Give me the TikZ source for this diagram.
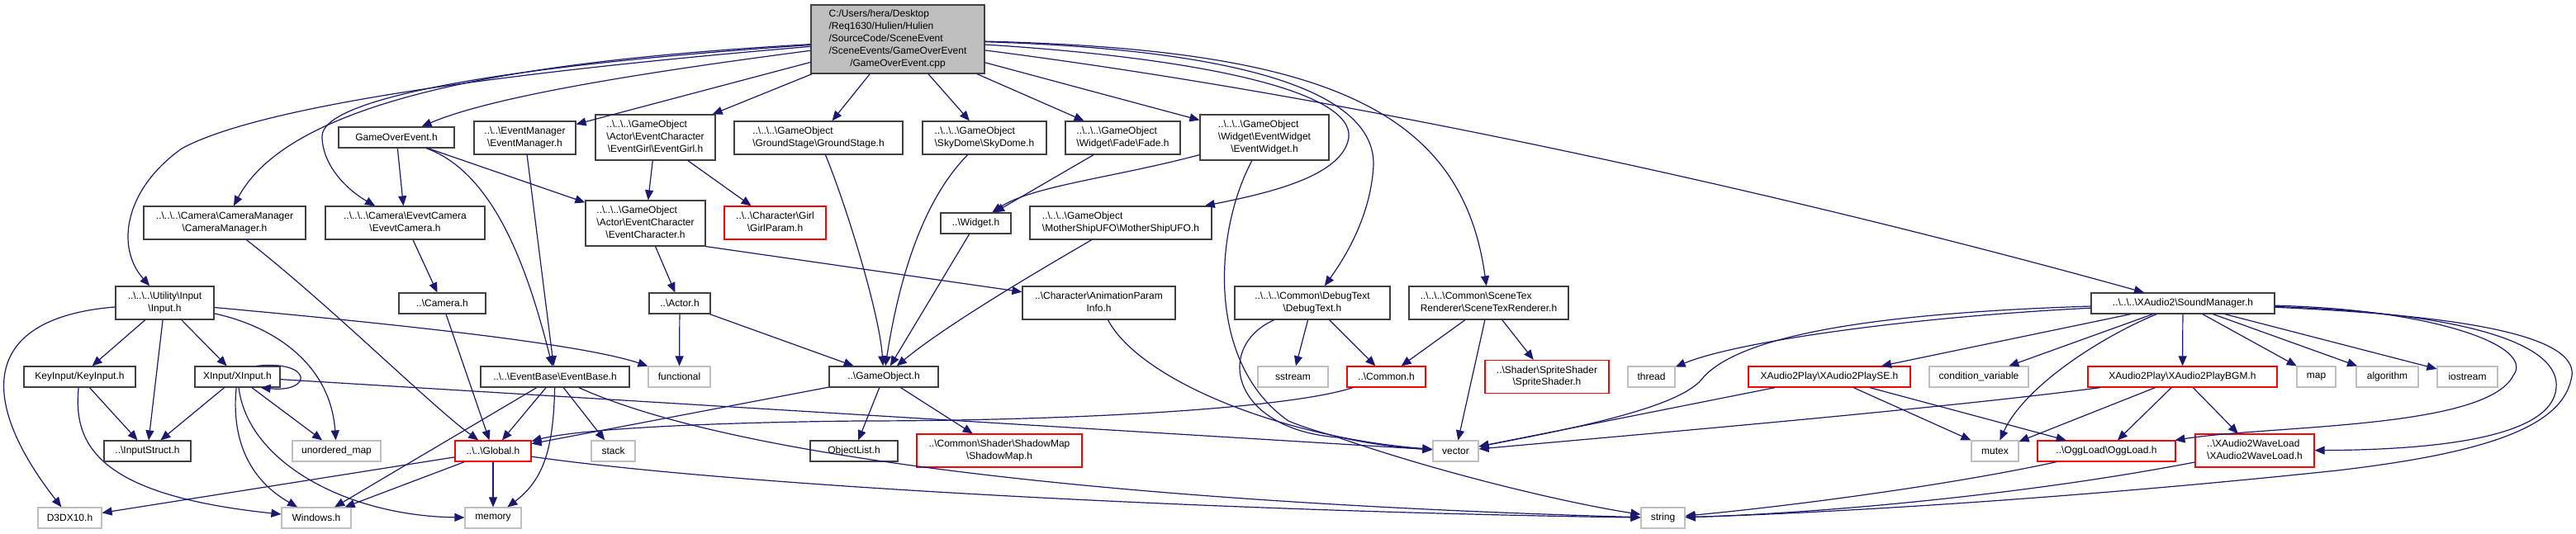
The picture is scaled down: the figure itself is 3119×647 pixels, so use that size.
\documentclass[tikz,border=0pt]{standalone}
\usepackage{fontspec}
\setmainfont{Liberation Sans}
\usepackage{xcolor}
\definecolor{DoxEdge}{HTML}{191970}
\definecolor{DoxRed}{HTML}{FF0000}
\definecolor{DoxGray}{HTML}{BFBFBF}
\definecolor{DoxFrame}{HTML}{404040}
\usepackage{tikz}
\usetikzlibrary{arrows.meta}
\newcommand{\bsl}{\textbackslash}
\newcommand{\ml}[2]{\begin{tabular}{@{}l@{}}#1\\\multicolumn{1}{@{}c@{}}{#2}\end{tabular}}
\tikzset{
  dnode/.style={draw=DoxFrame,fill=white,line width=1.2pt,inner sep=0pt,align=center,font=\fontsize{12}{14.8}\selectfont,minimum height=25pt},
  dred/.style={dnode,draw=DoxRed},
  dsys/.style={dnode,draw=DoxGray},
  droot/.style={dnode,fill=DoxGray,minimum height=83pt},
  two/.style={minimum height=40pt},
  three/.style={minimum height=55pt},
  dep/.style={draw=DoxEdge,line width=1.2pt,-{Triangle[length=12pt,width=10pt]}}
}

\begin{document}
\begin{tikzpicture}[x=1pt,y=-1pt]
  \path[use as bounding box,fill=white] (0,0) rectangle (3119,647);

  \node[droot,minimum width=210pt] (root) at (1087,47.5) {\ml{C:/Users/hera/Desktop\\/Req1630/Hulien/Hulien\\/SourceCode/SceneEvent\\/SceneEvents/GameOverEvent}{/GameOverEvent.cpp}};

  \node[dnode,minimum width=140pt] (gameoverh) at (480,166.5) {GameOverEvent.h};
  \node[dnode,two,minimum width=123pt] (eventmgr) at (635.5,167) {\ml{..\bsl..\bsl EventManager}{\bsl EventManager.h}};
  \node[dnode,three,minimum width=145pt] (eventgirl) at (793.5,166.5) {\ml{..\bsl..\bsl..\bsl GameObject\\\bsl Actor\bsl EventCharacter}{\bsl EventGirl\bsl EventGirl.h}};
  \node[dnode,two,minimum width=204pt] (groundstage) at (991,167) {\ml{..\bsl..\bsl..\bsl GameObject}{\bsl GroundStage\bsl GroundStage.h}};
  \node[dnode,two,minimum width=150pt] (skydome) at (1192,167) {\ml{..\bsl..\bsl..\bsl GameObject}{\bsl SkyDome\bsl SkyDome.h}};
  \node[dnode,two,minimum width=139pt] (fade) at (1359.5,167) {\ml{..\bsl..\bsl..\bsl GameObject}{\bsl Widget\bsl Fade\bsl Fade.h}};
  \node[dnode,three,minimum width=156pt] (eventwidget) at (1531,166.5) {\ml{..\bsl..\bsl..\bsl GameObject\\\bsl Widget\bsl EventWidget}{\bsl EventWidget.h}};

  \node[dnode,two,minimum width=196pt] (cameramgr) at (272,270) {\ml{..\bsl..\bsl..\bsl Camera\bsl CameraManager}{\bsl CameraManager.h}};
  \node[dnode,two,minimum width=193pt] (evevtcamera) at (490.5,270) {\ml{..\bsl..\bsl..\bsl Camera\bsl EvevtCamera}{\bsl EvevtCamera.h}};
  \node[dnode,three,minimum width=145pt] (eventchar) at (781.5,270.5) {\ml{..\bsl..\bsl..\bsl GameObject\\\bsl Actor\bsl EventCharacter}{\bsl EventCharacter.h}};
  \node[dred,two,minimum width=123pt] (girlparam) at (938.5,270) {\ml{..\bsl..\bsl Character\bsl Girl}{\bsl GirlParam.h}};
  \node[dnode,minimum width=85pt] (widget) at (1181.5,270.5) {..\bsl Widget.h};
  \node[dnode,two,minimum width=220pt] (mothership) at (1357,270) {\ml{..\bsl..\bsl..\bsl GameObject}{\bsl MotherShipUFO\bsl MotherShipUFO.h}};

  \node[dnode,two,minimum width=119pt] (input) at (199.5,367) {\ml{..\bsl..\bsl..\bsl Utility\bsl Input}{\bsl Input.h}};
  \node[dnode,minimum width=105pt] (camera) at (535.5,367.5) {..\bsl Camera.h};
  \node[dnode,minimum width=74pt] (actor) at (823,367.5) {..\bsl Actor.h};
  \node[dnode,two,minimum width=185pt] (animparam) at (1330.5,367) {\ml{..\bsl Character\bsl AnimationParam}{Info.h}};
  \node[dnode,two,minimum width=188pt] (debugtext) at (1589,367) {\ml{..\bsl..\bsl..\bsl Common\bsl DebugText}{\bsl DebugText.h}};
  \node[dnode,two,minimum width=193pt] (scenetex) at (1802.5,367) {\ml{..\bsl..\bsl..\bsl Common\bsl SceneTex}{Renderer\bsl SceneTexRenderer.h}};
  \node[dnode,minimum width=222pt] (soundmgr) at (2643,367.5) {..\bsl..\bsl..\bsl XAudio2\bsl SoundManager.h};

  \node[dnode,minimum width=135pt] (keyinput) at (96.5,456.5) {KeyInput/KeyInput.h};
  \node[dnode,minimum width=103pt] (xinput) at (287.5,456.5) {XInput/XInput.h};
  \node[dnode,minimum width=180pt] (eventbase) at (672,456.5) {..\bsl..\bsl EventBase\bsl EventBase.h};
  \node[dsys,minimum width=75pt] (functional) at (822.5,456.5) {functional};
  \node[dnode,minimum width=132pt] (gameobject) at (1070,456.5) {..\bsl GameObject.h};
  \node[dsys,minimum width=85pt] (sstream) at (1565.5,456.5) {sstream};
  \node[dred,minimum width=95pt] (common) at (1678.5,456.5) {..\bsl Common.h};
  \node[dred,two,minimum width=150pt] (spriteshader) at (1873,456.5) {\ml{..\bsl Shader\bsl SpriteShader}{\bsl SpriteShader.h}};
  \node[dsys,minimum width=57pt] (thread) at (1999.5,456.5) {thread};
  \node[dred,minimum width=196pt] (playse) at (2215,456.5) {XAudio2Play\bsl XAudio2PlaySE.h};
  \node[dsys,minimum width=120pt] (condvar) at (2396,456.5) {condition\_variable};
  \node[dred,minimum width=229pt] (playbgm) at (2642.5,456.5) {XAudio2Play\bsl XAudio2PlayBGM.h};
  \node[dsys,minimum width=47pt] (map) at (2804.5,456.5) {map};
  \node[dsys,minimum width=75pt] (algorithm) at (2890.5,456.5) {algorithm};
  \node[dsys,minimum width=73pt] (iostream) at (2987.5,456.5) {iostream};

  \node[dnode,minimum width=105pt] (inputstruct) at (178.5,546.5) {..\bsl InputStruct.h};
  \node[dsys,minimum width=107pt] (unorderedmap) at (407.5,546.5) {unordered\_map};
  \node[dred,minimum width=92pt] (global) at (597,546.5) {..\bsl..\bsl Global.h};
  \node[dsys,minimum width=53pt] (stack) at (742.5,546.5) {stack};
  \node[dnode,minimum width=106pt] (objectlist) at (1034,546.5) {ObjectList.h};
  \node[dred,two,minimum width=200pt] (shadowmap) at (1210,546) {\ml{..\bsl Common\bsl Shader\bsl ShadowMap}{\bsl ShadowMap.h}};
  \node[dsys,minimum width=55pt] (vector) at (1762.5,546.5) {vector};
  \node[dsys,minimum width=57pt] (mutex) at (2415.5,546.5) {mutex};
  \node[dred,minimum width=167pt] (oggload) at (2550.5,546.5) {..\bsl OggLoad\bsl OggLoad.h};
  \node[dred,two,minimum width=144pt] (waveload) at (2730,546) {\ml{..\bsl XAudio2WaveLoad}{\bsl XAudio2WaveLoad.h}};

  \node[dsys,minimum width=77pt] (d3dx10) at (84.5,627.5) {D3DX10.h};
  \node[dsys,minimum width=84pt] (windows) at (383,627.5) {Windows.h};
  \node[dsys,minimum width=68pt] (memory) at (597,627.5) {memory};
  \node[dsys,minimum width=53pt] (string) at (2013.5,627.5) {string};

  \draw[dep] (root) .. controls (700,80) and (330,120) .. (220,180) .. controls (150,230) and (140,300) .. (input);
  \draw[dep] (root) .. controls (700,70) and (360,105) .. (cameramgr);
  \draw[dep] (root) .. controls (600,80) and (390,120) .. (390,165) .. controls (390,200) and (420,230) .. (evevtcamera);
  \draw[dep] (root) .. controls (800,85) and (600,115) .. (gameoverh);
  \draw[dep] (root) -- (eventmgr);
  \draw[dep] (root) -- (eventgirl);
  \draw[dep] (root) -- (groundstage);
  \draw[dep] (root) -- (skydome);
  \draw[dep] (root) -- (fade);
  \draw[dep] (root) -- (eventwidget);
  \draw[dep] (root) .. controls (1450,70) and (1640,110) .. (1633,167) .. controls (1625,215) and (1530,235) .. (mothership);
  \draw[dep] (root) .. controls (1500,60) and (1665,110) .. (1663,200) .. controls (1660,260) and (1630,310) .. (debugtext);
  \draw[dep] (root) .. controls (1600,60) and (1770,130) .. (scenetex);
  \draw[dep] (root) .. controls (1700,126) and (2250,258) .. (soundmgr);

  \draw[dep] (gameoverh) -- (evevtcamera);
  \draw[dep] (gameoverh) -- (eventchar);
  \draw[dep] (gameoverh) .. controls (600,210) and (640,330) .. (eventbase);
  \draw[dep] (eventmgr) -- (eventbase);
  \draw[dep] (eventgirl) -- (eventchar);
  \draw[dep] (eventgirl) -- (girlparam);
  \draw[dep] (groundstage) .. controls (1025,250) and (1065,380) .. (gameobject);
  \draw[dep] (skydome) .. controls (1110,250) and (1085,360) .. (gameobject);
  \draw[dep] (fade) -- (widget);
  \draw[dep] (eventwidget) .. controls (1350,215) and (1250,225) .. (widget);
  \draw[dep] (eventwidget) .. controls (1470,280) and (1460,440) .. (1560,510) .. controls (1620,535) and (1690,542) .. (vector);

  \draw[dep] (cameramgr) .. controls (400,370) and (520,490) .. (global);
  \draw[dep] (evevtcamera) -- (camera);
  \draw[dep] (eventchar) -- (actor);
  \draw[dep] (eventchar.south east) -- (animparam);
  \draw[dep] (widget) -- (gameobject);
  \draw[dep] (mothership) .. controls (1280,315) and (1150,390) .. (gameobject);

  \draw[dep] (input) .. controls (-20,385) and (-30,480) .. (d3dx10);
  \draw[dep] (input) -- (keyinput);
  \draw[dep] (input) -- (inputstruct);
  \draw[dep] (input) -- (xinput);
  \draw[dep] (input) .. controls (330,395) and (400,440) .. (unorderedmap);
  \draw[dep] (input) .. controls (450,390) and (700,415) .. (functional);
  \draw[dep] (camera) -- (global);
  \draw[dep] (actor) -- (functional);
  \draw[dep] (actor) -- (gameobject);
  \draw[dep] (animparam) .. controls (1380,460) and (1550,530) .. (vector);
  \draw[dep] (debugtext) -- (sstream);
  \draw[dep] (debugtext) -- (common);
  \draw[dep] (debugtext) .. controls (1470,420) and (1490,520) .. (1620,530) .. controls (1750,575) and (1900,610) .. (string);
  \draw[dep] (scenetex) -- (common);
  \draw[dep] (scenetex) -- (vector);
  \draw[dep] (scenetex) -- (spriteshader);

  \draw[dep] (soundmgr) .. controls (2300,385) and (2100,415) .. (thread);
  \draw[dep] (soundmgr) .. controls (2250,380) and (2100,410) .. (2060,460) .. controls (2030,495) and (1900,520) .. (vector);
  \draw[dep] (soundmgr) -- (playse);
  \draw[dep] (soundmgr) -- (condvar);
  \draw[dep] (soundmgr) .. controls (2540,410) and (2450,470) .. (mutex);
  \draw[dep] (soundmgr) -- (playbgm);
  \draw[dep] (soundmgr) -- (map);
  \draw[dep] (soundmgr) -- (algorithm);
  \draw[dep] (soundmgr) -- (iostream);
  \draw[dep] (soundmgr) .. controls (2950,375) and (3070,420) .. (3043,455) .. controls (3010,520) and (2750,515) .. (oggload);
  \draw[dep] (soundmgr) .. controls (3000,380) and (3100,420) .. (3095,470) .. controls (3090,530) and (2950,545) .. (waveload);
  \draw[dep] (soundmgr) .. controls (3050,385) and (3125,420) .. (3113,460) .. controls (3100,520) and (3000,550) .. (2830,570) .. controls (2500,605) and (2200,622) .. (string);

  \draw[dep] (keyinput) -- (inputstruct);
  \draw[dep] (keyinput) .. controls (88,540) and (120,600) .. (windows);
  \draw[dep] (xinput) -- (inputstruct);
  \draw[dep] ([xshift=-29pt]xinput.north east) .. controls (379,436) and (379,476) .. ([xshift=-24pt]xinput.south east);
  \draw[dep] (xinput) -- (unorderedmap);
  \draw[dep] (xinput) .. controls (280,530) and (300,580) .. (windows);
  \draw[dep] (xinput) .. controls (300,560) and (420,625) .. (memory);
  \draw[dep] (xinput) -- (vector);

  \draw[dep] (eventbase) -- (global);
  \draw[dep] (eventbase) -- (windows);
  \draw[dep] (eventbase) .. controls (670,540) and (660,580) .. (memory);
  \draw[dep] (eventbase) -- (stack);
  \draw[dep] (eventbase) .. controls (900,560) and (1400,610) .. (string);
  \draw[dep] (gameobject) -- (global);
  \draw[dep] (gameobject) -- (objectlist);
  \draw[dep] (gameobject) -- (shadowmap);
  \draw[dep] (common) .. controls (1560,495) and (1300,510) .. (1040,510) .. controls (850,512) and (700,520) .. (global);

  \draw[dep] (playse) -- (vector);
  \draw[dep] (playse) -- (mutex);
  \draw[dep] (playse) -- (oggload);
  \draw[dep] (playbgm) .. controls (2350,495) and (2000,525) .. (vector);
  \draw[dep] (playbgm) -- (mutex);
  \draw[dep] (playbgm) -- (oggload);
  \draw[dep] (playbgm) -- (waveload);

  \draw[dep] (global) -- (d3dx10);
  \draw[dep] (global) -- (windows);
  \draw[dep] (global) -- (memory);
  \draw[dep] (global) .. controls (900,590) and (1500,620) .. (string);
  \draw[dep] (oggload) .. controls (2350,590) and (2150,615) .. (string);
  \draw[dep] (waveload) .. controls (2450,600) and (2200,622) .. (string);
\end{tikzpicture}
\end{document}
